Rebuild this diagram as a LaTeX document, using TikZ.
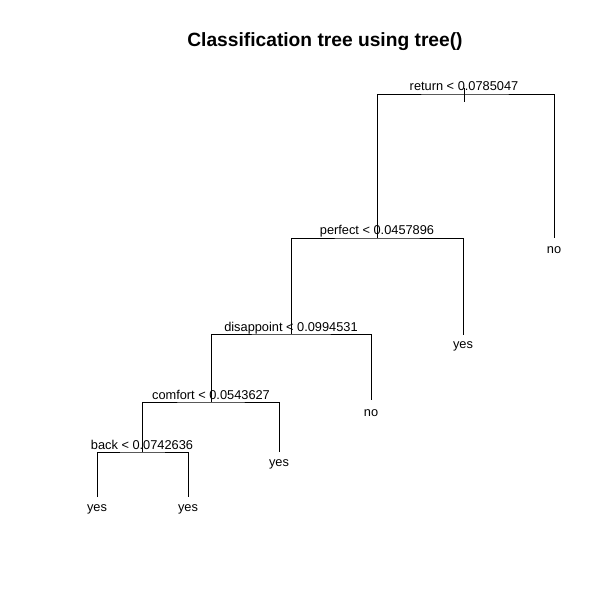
\documentclass[tikz,border=0pt]{standalone}
\usepackage{fontspec}
\setmainfont{Liberation Sans}
\begin{document}
\begin{tikzpicture}[x=1pt,y=-1pt,
  edge/.style={draw=black,line width=0.9pt},
  splitlab/.style={anchor=base,inner sep=0pt,font=\fontsize{12.8}{14}\selectfont},
  leaflab/.style={anchor=base,inner sep=0pt,font=\fontsize{12.8}{14}\selectfont},
  titlelab/.style={anchor=base,inner sep=0pt,font=\fontsize{19.2}{22}\selectfont\bfseries}]
\useasboundingbox[fill=white] (0,0) rectangle (613,612);
% split points
\coordinate (p0) at (464,94);
\coordinate (p0top) at (464,88);
\coordinate (p0bot) at (464,102);
\coordinate (p1) at (377,238);
\coordinate (p2) at (291,334);
\coordinate (p3) at (211,402);
\coordinate (p4) at (142,452);
% leaves
\coordinate (n1) at (554,238);
\coordinate (n2) at (463,335);
\coordinate (n3) at (371,400);
\coordinate (n4) at (279,452);
\coordinate (n5) at (97,497);
\coordinate (n6) at (188,497);
% title
\node[titlelab] (title) at (325,47) {Classification tree using tree()};
% edges
\draw[edge] (p0top) -- (p0bot);
\draw[edge] (p1) |- (p0) -| (n1);
\draw[edge] (p2) |- (p1) -| (n2);
\draw[edge] (p3) |- (p2) -| (n3);
\draw[edge] (p4) |- (p3) -| (n4);
\draw[edge] (n5) |- (p4) -| (n6);
% split labels
\node[splitlab] (l0) at ([yshift=3pt]p0) {return < 0.0785047};
\node[splitlab] (l1) at ([yshift=3pt]p1) {perfect < 0.0457896};
\node[splitlab] (l2) at ([yshift=3pt]p2) {disappoint < 0.0994531};
\node[splitlab] (l3) at ([yshift=3pt]p3) {comfort < 0.0543627};
\node[splitlab] (l4) at ([yshift=3pt]p4) {back < 0.0742636};
% leaf labels
\node[leaflab] (t1) at ([yshift=-16pt]n1) {no};
\node[leaflab] (t2) at ([yshift=-13pt]n2) {yes};
\node[leaflab] (t3) at ([yshift=-16pt]n3) {no};
\node[leaflab] (t4) at ([yshift=-14pt]n4) {yes};
\node[leaflab] (t5) at ([yshift=-14pt]n5) {yes};
\node[leaflab] (t6) at ([yshift=-14pt]n6) {yes};
\end{tikzpicture}
\end{document}
